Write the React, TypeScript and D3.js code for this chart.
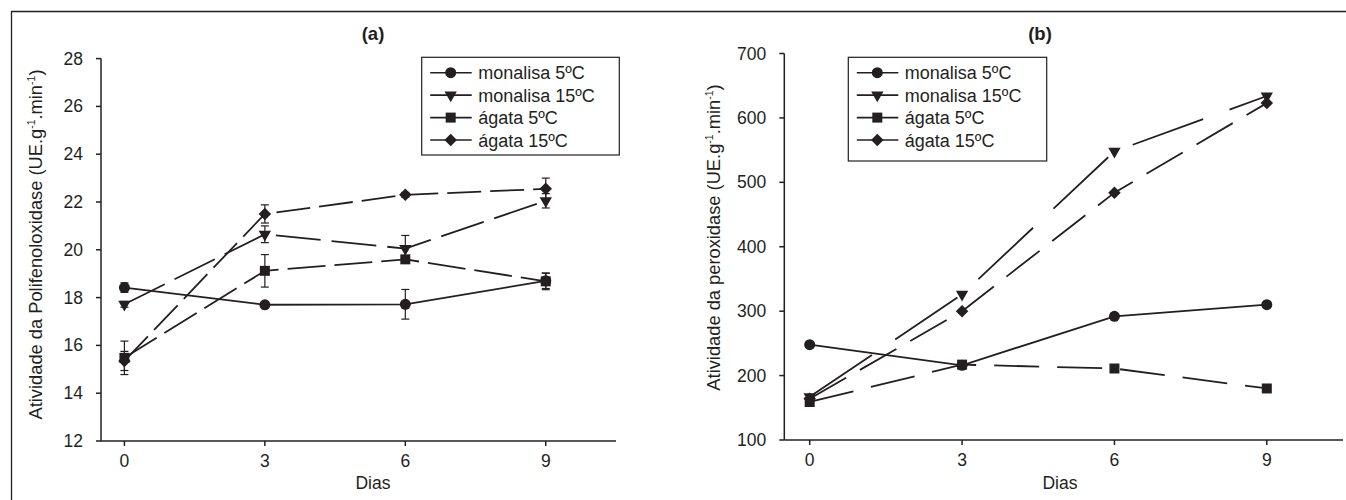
import React from "react";
import * as d3 from "d3";

const days = [0, 3, 6, 9];
const xTicks = [0, 3, 6, 9];

const seriesNames = ["monalisa 5ºC", "monalisa 15ºC", "ágata 5ºC", "ágata 15ºC"];

// Panel (a) Polifenoloxidase
const pfoMonalisa5 = [18.42, 17.7, 17.72, 18.7];
const pfoMonalisa5Err = [0.2, 0, 0.62, 0.32];
const pfoMonalisa15 = [17.72, 20.65, 20.05, 22.05];
const pfoMonalisa15Err = [0.12, 0.35, 0.55, 0.3];
const pfoAgata5 = [15.48, 19.12, 19.6, 18.68];
const pfoAgata5Err = [0.7, 0.68, 0.1, 0.35];
const pfoAgata15 = [15.35, 21.5, 22.3, 22.55];
const pfoAgata15Err = [0.4, 0.38, 0.1, 0.45];
const pfoYTicks = [12, 14, 16, 18, 20, 22, 24, 26, 28];

// Panel (b) Peroxidase
const perMonalisa5 = [248, 216, 292, 310];
const perMonalisa15 = [167, 326, 548, 634];
const perAgata5 = [159, 217, 211, 180];
const perAgata15 = [164, 300, 484, 623];
const perYTicks = [100, 200, 300, 400, 500, 600, 700];

const INK = "#231f20";
const FONT = "Arial, 'Liberation Sans', Helvetica, sans-serif";

type Series = { name: string; values: number[]; err?: number[]; marker: string; dash: string | null };

function markerPath(kind: string) {
  if (kind === "circle") return d3.symbol().type(d3.symbolCircle).size(95)()!;
  if (kind === "square") return d3.symbol().type(d3.symbolSquare).size(100)()!;
  if (kind === "diamond") return d3.symbol().type(d3.symbolSquare).size(78)()!;
  return d3.symbol().type(d3.symbolTriangle).size(66)()!;
}
function markerRotate(kind: string) {
  if (kind === "diamond") return 45;
  if (kind === "triangle") return 180;
  return 0;
}

function Marker({ kind, x, y }: { kind: string; x: number; y: number }) {
  return (
    <path
      d={markerPath(kind)}
      transform={`translate(${x},${y}) rotate(${markerRotate(kind)})`}
      fill={INK}
    />
  );
}

type PanelProps = {
  x0: number; x1: number; yTop: number; yBot: number;
  yDomain: [number, number]; yTicks: number[];
  series: Series[];
  title: string; titleX: number;
  yLabel: string; yLabelX: number; yLabelY: number;
  diasX: number;
  legend: { x: number; y: number; w: number; h: number };
};

function Panel(p: PanelProps) {
  const x = d3.scaleLinear().domain([-0.5, 10.5]).range([p.x0, p.x1]);
  const y = d3.scaleLinear().domain(p.yDomain).range([p.yBot, p.yTop]);
  const line = d3.line<number>().x((_, i) => x(days[i])).y((v) => y(v));
  const rowYs = [0, 1, 2, 3].map((i) => p.legend.y + 15.4 + i * 22.45);
  return (
    <g>
      <text x={p.titleX} y={40} textAnchor="middle" fontWeight="bold" fontSize={18.5} fill={INK}>{p.title}</text>
      {/* axes */}
      <line x1={p.x0} x2={p.x1} y1={p.yBot} y2={p.yBot} stroke={INK} strokeWidth={1.5} />
      <line x1={p.x0} x2={p.x0} y1={p.yTop} y2={p.yBot} stroke={INK} strokeWidth={1.5} />
      {p.yTicks.map((t) => (
        <g key={"y" + t}>
          <line x1={p.x0 - 5} x2={p.x0} y1={y(t)} y2={y(t)} stroke={INK} strokeWidth={1.5} />
          <text x={p.x0 - 18} y={y(t) + 6} textAnchor="end" fontSize={17.5} fill={INK}>{t}</text>
        </g>
      ))}
      {xTicks.map((t) => (
        <g key={"x" + t}>
          <line x1={x(t)} x2={x(t)} y1={p.yBot} y2={p.yBot + 5} stroke={INK} strokeWidth={1.5} />
          <text x={x(t)} y={p.yBot + 26} textAnchor="middle" fontSize={17.5} fill={INK}>{t}</text>
        </g>
      ))}
      <text x={p.diasX} y={489} textAnchor="middle" fontSize={17.5} fill={INK}>Dias</text>
      <text
        transform={`translate(${p.yLabelX},${p.yLabelY}) rotate(-90)`}
        textAnchor="middle"
        fontSize={18.3}
        fill={INK}
      >
        {p.yLabel}
        <tspan dy={-7.5} fontSize={10.5}>-1</tspan>
        <tspan dy={7.5}>.min</tspan>
        <tspan dy={-7.5} fontSize={10.5}>-1</tspan>
        <tspan dy={7.5}>)</tspan>
      </text>
      {/* lines */}
      {p.series.map((s) => (
        <path
          key={"l" + s.name}
          d={line(s.values)!}
          fill="none"
          stroke={INK}
          strokeWidth={1.8}
          strokeDasharray={s.dash ?? undefined}
        />
      ))}
      {/* error bars */}
      {p.series.map((s) =>
        s.err
          ? s.values.map((v, i) =>
              s.err![i] > 0 ? (
                <g key={"e" + s.name + i} stroke={INK} strokeWidth={1.2}>
                  <line x1={x(days[i])} x2={x(days[i])} y1={y(v - s.err![i])} y2={y(v + s.err![i])} />
                  <line x1={x(days[i]) - 4} x2={x(days[i]) + 4} y1={y(v - s.err![i])} y2={y(v - s.err![i])} />
                  <line x1={x(days[i]) - 4} x2={x(days[i]) + 4} y1={y(v + s.err![i])} y2={y(v + s.err![i])} />
                </g>
              ) : null
            )
          : null
      )}
      {/* markers */}
      {p.series.map((s) =>
        s.values.map((v, i) => <Marker key={"m" + s.name + i} kind={s.marker} x={x(days[i])} y={y(v)} />)
      )}
      {/* legend */}
      <rect x={p.legend.x} y={p.legend.y} width={p.legend.w} height={p.legend.h} fill="white" stroke={INK} strokeWidth={1.2} />
      {p.series.map((s, i) => (
        <g key={"lg" + s.name}>
          <line x1={p.legend.x + 8.5} x2={p.legend.x + 50} y1={rowYs[i]} y2={rowYs[i]} stroke={INK} strokeWidth={1.6} />
          <Marker kind={s.marker} x={p.legend.x + 29} y={rowYs[i]} />
          <text x={p.legend.x + 56.5} y={rowYs[i] + 6.5} fontSize={18} fill={INK}>{s.name}</text>
        </g>
      ))}
    </g>
  );
}

export default function App() {
  const seriesA: Series[] = [
    { name: seriesNames[0], values: pfoMonalisa5, err: pfoMonalisa5Err, marker: "circle", dash: null },
    { name: seriesNames[1], values: pfoMonalisa15, err: pfoMonalisa15Err, marker: "triangle", dash: "45,11" },
    { name: seriesNames[2], values: pfoAgata5, err: pfoAgata5Err, marker: "square", dash: "38,9" },
    { name: seriesNames[3], values: pfoAgata15, err: pfoAgata15Err, marker: "diamond", dash: "34,9" },
  ];
  const seriesB: Series[] = [
    { name: seriesNames[0], values: perMonalisa5, marker: "circle", dash: null },
    { name: seriesNames[1], values: perMonalisa15, marker: "triangle", dash: "75,28" },
    { name: seriesNames[2], values: perAgata5, marker: "square", dash: "45,18" },
    { name: seriesNames[3], values: perAgata15, marker: "diamond", dash: "42,16" },
  ];
  return (
    <svg
      width={1346}
      height={500}
      style={{ position: "absolute", left: 0, top: 0, background: "white" }}
      fontFamily={FONT}
    >
      <rect x={0} y={0} width={1346} height={500} fill="white" />
      <path d="M11.5,500 L11.5,11.5 L1346,11.5" fill="none" stroke={INK} strokeWidth={1.3} />
      <Panel
        x0={101} x1={616} yTop={58.6} yBot={441}
        yDomain={[12, 28]} yTicks={pfoYTicks}
        series={seriesA}
        title="(a)" titleX={373}
        yLabel="Atividade da Polifenoloxidase (UE.g"
        yLabelX={42} yLabelY={244.5}
        diasX={373}
        legend={{ x: 421.7, y: 57.3, w: 197.6, h: 97.7 }}
      />
      <Panel
        x0={784.3} x1={1343} yTop={53.5} yBot={440}
        yDomain={[100, 700]} yTicks={perYTicks}
        series={seriesB}
        title="(b)" titleX={1040}
        yLabel="Atividade da peroxidase (UE.g"
        yLabelX={720} yLabelY={237.5}
        diasX={1060}
        legend={{ x: 848.3, y: 57.3, w: 198.4, h: 103.7 }}
      />
    </svg>
  );
}
